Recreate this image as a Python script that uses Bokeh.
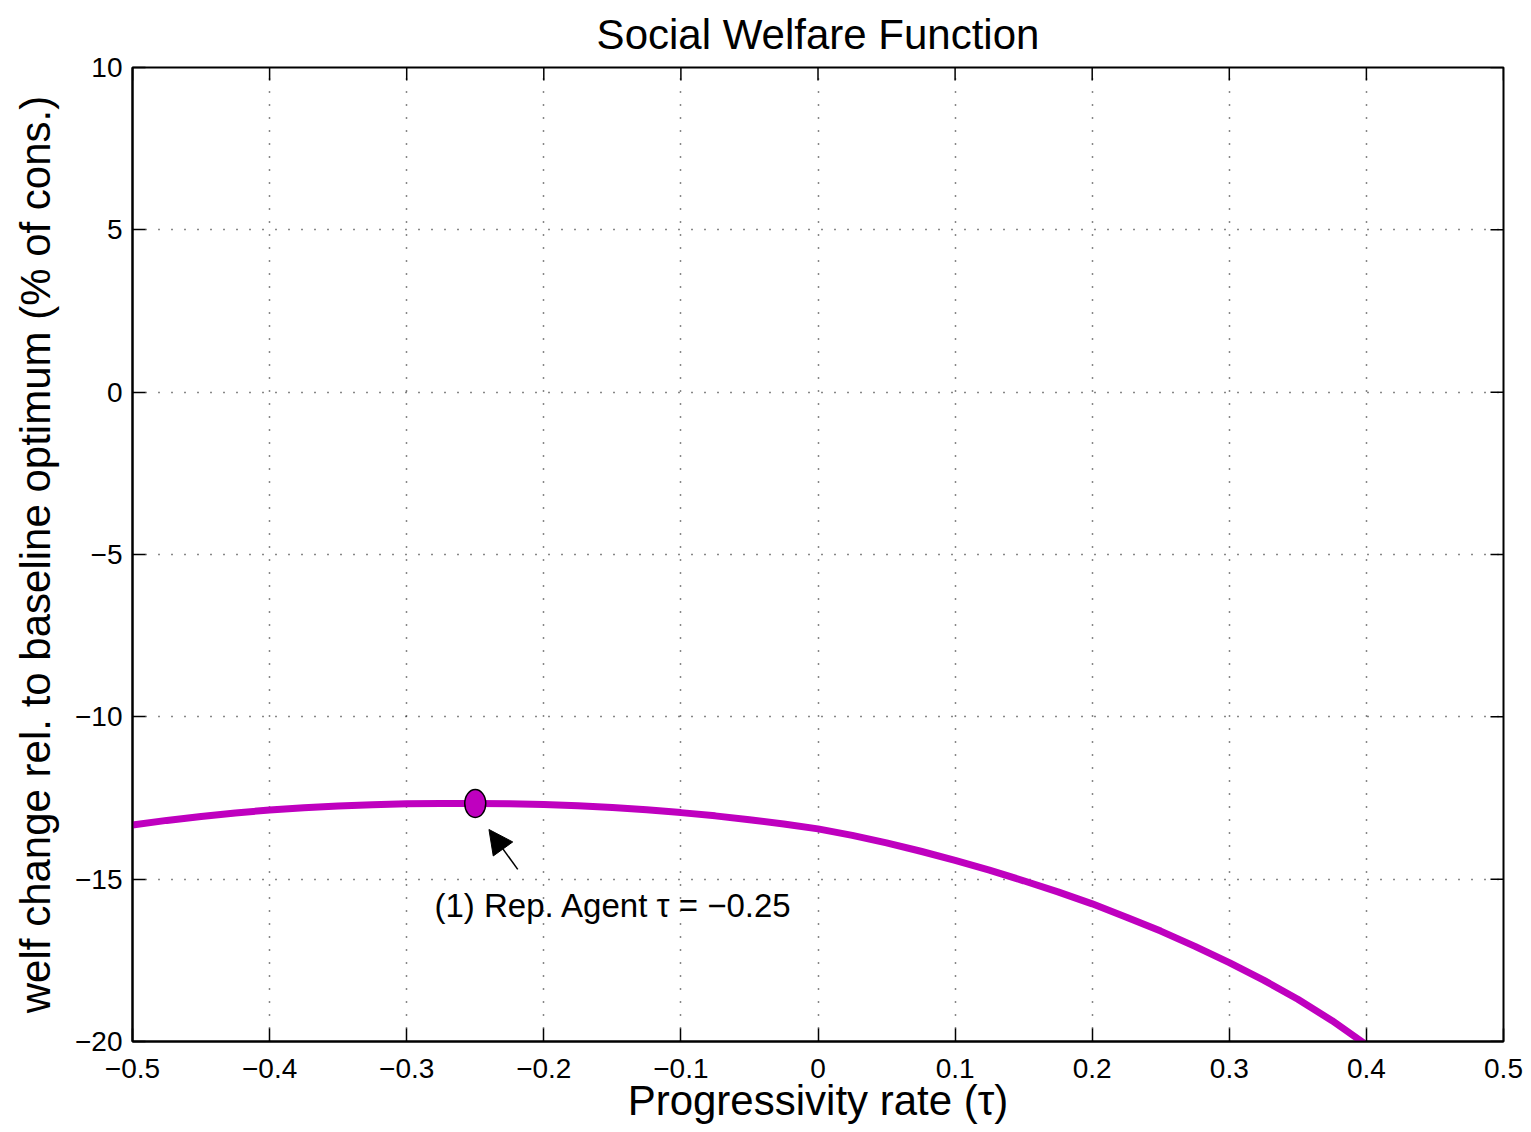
import math
from bokeh.plotting import figure
from bokeh.models import (FixedTicker, Arrow, NormalHead, Title, Range1d, Label)
from bokeh.embed import file_html
from bokeh.resources import INLINE

# ---- data ----
tau = [-0.500, -0.475, -0.450, -0.425, -0.400, -0.375, -0.350, -0.325, -0.300, -0.275,
       -0.250, -0.225, -0.200, -0.175, -0.150, -0.125, -0.100, -0.075, -0.050, -0.025,
       0.000, 0.025, 0.050, 0.075, 0.100, 0.125, 0.150, 0.175, 0.200, 0.225,
       0.250, 0.275, 0.300, 0.325, 0.350, 0.375, 0.400]
welfare = [-13.33, -13.19, -13.07, -12.96, -12.87, -12.80, -12.75, -12.71, -12.68, -12.67,
           -12.67, -12.68, -12.70, -12.74, -12.79, -12.86, -12.95, -13.05, -13.17, -13.30,
           -13.45, -13.65, -13.88, -14.14, -14.42, -14.72, -15.05, -15.39, -15.76, -16.17,
           -16.60, -17.07, -17.57, -18.11, -18.70, -19.36, -20.10]

opt_tau = [-0.25]
opt_welfare = [-12.67]
opt_label = "(1) Rep. Agent \u03c4 = \u22120.25"

x_ticks = [-0.5, -0.4, -0.3, -0.2, -0.1, 0, 0.1, 0.2, 0.3, 0.4, 0.5]
x_tick_labels = ["\u22120.5", "\u22120.4", "\u22120.3", "\u22120.2", "\u22120.1", "0",
                 "0.1", "0.2", "0.3", "0.4", "0.5"]
y_ticks = [-20, -15, -10, -5, 0, 5, 10]
y_tick_labels = ["\u221220", "\u221215", "\u221210", "\u22125", "0", "5", "10"]
x_lim = (-0.5, 0.5)
y_lim = (-20, 10)

FONT = "Liberation Sans"
COLOR = "#bf00bf"
TICK_LEN = 13

p = figure(width=1531, height=1132,
           x_range=Range1d(*x_lim), y_range=Range1d(*y_lim),
           output_backend="svg", toolbar_location=None,
           min_border_left=132, min_border_right=28, min_border_top=67, min_border_bottom=91,
           x_axis_label="Progressivity rate (\u03c4)",
           y_axis_label="welf change rel. to baseline optimum (% of cons.)")

p.title = Title(text="Social Welfare Function", align="center",
                text_font=FONT, text_font_size="42px", text_font_style="normal",
                text_color="black", standoff=16, vertical_align="top")
p.background_fill_color = "white"
p.border_fill_color = "white"
p.outline_line_color = "black"
p.outline_line_width = 2

def style_axis(ax, ticks, labels):
    ax.ticker = FixedTicker(ticks=ticks)
    ax.major_label_overrides = {t: l for t, l in zip(ticks, labels)}
    ax.axis_line_color = "black"
    ax.axis_line_width = 2
    ax.major_tick_in = TICK_LEN
    ax.major_tick_out = 0
    ax.major_tick_line_width = 1.5
    ax.major_tick_line_color = "black"
    ax.minor_tick_line_color = None
    ax.major_label_text_font = FONT
    ax.major_label_text_color = "black"
    ax.major_label_text_font_size = "28px"
    ax.axis_label_text_font = FONT
    ax.axis_label_text_font_style = "normal"
    ax.axis_label_text_color = "black"
    ax.axis_label_text_font_size = "42px"

xa = p.xaxis[0]
style_axis(xa, x_ticks, x_tick_labels)
xa.major_label_standoff = 17
xa.axis_label_standoff = -4

ya = p.yaxis[0]
style_axis(ya, y_ticks, y_tick_labels)
ya.major_label_standoff = 10
ya.axis_label_standoff = 13

# inward ticks on the top and right edges of the box (MATLAB style)
p.ray(x=x_ticks, y=[y_lim[1]] * len(x_ticks), length=TICK_LEN, length_units="screen",
      angle=-math.pi / 2, line_color="black", line_width=1.5)
p.ray(x=[x_lim[1]] * len(y_ticks), y=y_ticks, length=TICK_LEN, length_units="screen",
      angle=math.pi, line_color="black", line_width=1.5)

for g, t in ((p.xgrid[0], x_ticks), (p.ygrid[0], y_ticks)):
    g.ticker = FixedTicker(ticks=t)
    g.grid_line_color = "#111111"
    g.grid_line_dash = "1 12"
    g.grid_line_width = 1.5

p.line(tau, welfare, line_color=COLOR, line_width=7)

p.ellipse(opt_tau, opt_welfare, width=21, height=28,
          width_units="screen", height_units="screen",
          fill_color=COLOR, line_color="black", line_width=1.5)

# annotation arrow and text, placed relative to the optimum point
arrow_tail = (opt_tau[0] + 0.031, opt_welfare[0] - 2.03)
arrow_head = (opt_tau[0] + 0.010, opt_welfare[0] - 0.80)
p.add_layout(Arrow(end=NormalHead(size=24, fill_color="black", line_color="black"),
                   x_start=arrow_tail[0], y_start=arrow_tail[1],
                   x_end=arrow_head[0], y_end=arrow_head[1],
                   line_color="black", line_width=1.5))
p.add_layout(Label(x=opt_tau[0] - 0.0297, y=opt_welfare[0] - 3.13, text=opt_label,
                   text_font=FONT, text_font_size="33px", text_color="black",
                   text_baseline="middle", text_align="left"))

open("out.html", "w").write(file_html(p, INLINE))
